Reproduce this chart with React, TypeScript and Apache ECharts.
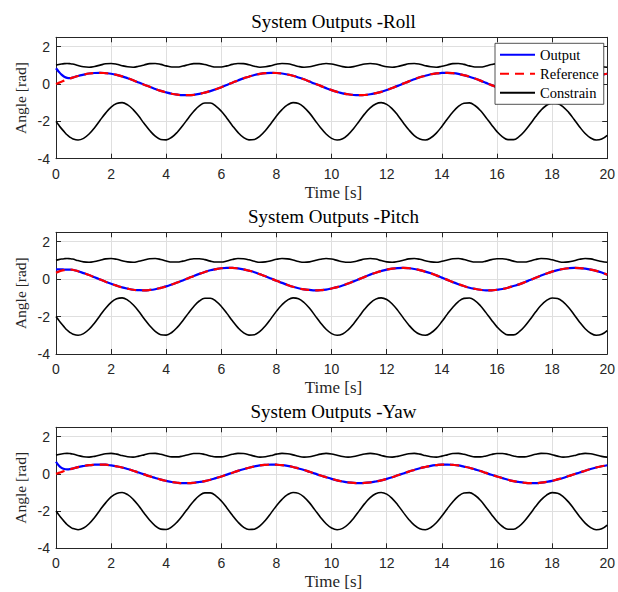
import React, { useEffect, useRef } from "react";
import * as echarts from "echarts";

// Sample times [s]
const time = [
  0, 0.1, 0.2, 0.3, 0.4, 0.5, 0.6, 0.8,
  1, 1.2, 1.4, 1.6, 1.8, 2, 2.2, 2.4, 2.6, 2.8, 3, 3.2, 3.4, 3.6, 3.8,
  4, 4.2, 4.4, 4.6, 4.8, 5, 5.2, 5.4, 5.6, 5.8, 6, 6.2, 6.4, 6.6, 6.8,
  7, 7.2, 7.4, 7.6, 7.8, 8, 8.2, 8.4, 8.6, 8.8, 9, 9.2, 9.4, 9.6, 9.8,
  10, 10.2, 10.4, 10.6, 10.8, 11, 11.2, 11.4, 11.6, 11.8, 12, 12.2, 12.4, 12.6, 12.8,
  13, 13.2, 13.4, 13.6, 13.8, 14, 14.2, 14.4, 14.6, 14.8, 15, 15.2, 15.4, 15.6, 15.8,
  16, 16.2, 16.4, 16.6, 16.8, 17, 17.2, 17.4, 17.6, 17.8, 18, 18.2, 18.4, 18.6, 18.8,
  19, 19.2, 19.4, 19.6, 19.8, 20,
];

const constrainUpper = [
  1.0, 1.04, 1.07, 1.09, 1.1, 1.09, 1.07, 0.99,
  0.92, 0.9, 0.94, 1.01, 1.08, 1.1, 1.06, 0.98, 0.92, 0.9, 0.95, 1.02, 1.09, 1.1, 1.05,
  0.97, 0.91, 0.91, 0.96, 1.03, 1.09, 1.09, 1.04, 0.96, 0.91, 0.91, 0.97, 1.05, 1.1, 1.09,
  1.03, 0.95, 0.9, 0.92, 0.98, 1.06, 1.1, 1.08, 1.02, 0.94, 0.9, 0.92, 0.99, 1.06, 1.1,
  1.07, 1.0, 0.93, 0.9, 0.93, 1.0, 1.07, 1.1, 1.07, 0.99, 0.92, 0.9, 0.94, 1.01, 1.08,
  1.1, 1.06, 0.98, 0.92, 0.9, 0.95, 1.02, 1.09, 1.1, 1.05, 0.97, 0.91, 0.91, 0.96, 1.04,
  1.09, 1.09, 1.04, 0.96, 0.91, 0.91, 0.97, 1.05, 1.1, 1.09, 1.03, 0.95, 0.9, 0.92, 0.98,
  1.06, 1.1, 1.08, 1.01, 0.94, 0.9,
];

const constrainLower = [
  -2.0, -2.2, -2.39, -2.56, -2.72, -2.84, -2.93, -3.0,
  -2.91, -2.68, -2.34, -1.94, -1.56, -1.24, -1.05, -1.0, -1.12, -1.37, -1.72, -2.12, -2.49, -2.79, -2.97,
  -2.99, -2.85, -2.58, -2.22, -1.83, -1.46, -1.17, -1.02, -1.02, -1.18, -1.46, -1.83, -2.23, -2.59, -2.86,
  -2.99, -2.97, -2.79, -2.49, -2.11, -1.71, -1.37, -1.12, -1.0, -1.05, -1.25, -1.56, -1.95, -2.34, -2.68,
  -2.91, -3.0, -2.93, -2.71, -2.38, -1.99, -1.6, -1.28, -1.07, -1.0, -1.09, -1.33, -1.67, -2.07, -2.45,
  -2.76, -2.95, -3.0, -2.88, -2.63, -2.27, -1.87, -1.5, -1.2, -1.03, -1.01, -1.15, -1.42, -1.79, -2.18,
  -2.55, -2.83, -2.98, -2.98, -2.82, -2.53, -2.16, -1.76, -1.4, -1.14, -1.01, -1.04, -1.22, -1.52, -1.9,
  -2.3, -2.65, -2.89, -3.0, -2.95, -2.75,
];

const rollReference = [
  0.0, 0.06, 0.12, 0.18, 0.23, 0.29, 0.34, 0.43,
  0.5, 0.56, 0.59, 0.6, 0.58, 0.55, 0.49, 0.41, 0.31, 0.2, 0.08, -0.04, -0.15, -0.27, -0.37,
  -0.45, -0.52, -0.57, -0.6, -0.6, -0.58, -0.53, -0.46, -0.38, -0.28, -0.17, -0.05, 0.07, 0.19, 0.3,
  0.39, 0.48, 0.54, 0.58, 0.6, 0.59, 0.56, 0.51, 0.44, 0.35, 0.25, 0.13, 0.01, -0.1, -0.22,
  -0.33, -0.42, -0.5, -0.55, -0.59, -0.6, -0.59, -0.55, -0.49, -0.42, -0.32, -0.21, -0.1, 0.02, 0.14,
  0.25, 0.36, 0.44, 0.52, 0.57, 0.59, 0.6, 0.58, 0.54, 0.47, 0.39, 0.29, 0.18, 0.06, -0.06,
  -0.17, -0.28, -0.38, -0.46, -0.53, -0.58, -0.6, -0.6, -0.57, -0.52, -0.45, -0.36, -0.26, -0.15, -0.03,
  0.09, 0.21, 0.31, 0.41, 0.49, 0.55,
];

const rollOutput = [
  0.84, 0.66, 0.5, 0.39, 0.33, 0.31, 0.34, 0.43,
  0.5, 0.56, 0.59, 0.6, 0.58, 0.55, 0.49, 0.41, 0.31, 0.2, 0.08, -0.04, -0.15, -0.27, -0.37,
  -0.45, -0.52, -0.57, -0.6, -0.6, -0.58, -0.53, -0.46, -0.38, -0.28, -0.17, -0.05, 0.07, 0.19, 0.3,
  0.39, 0.48, 0.54, 0.58, 0.6, 0.59, 0.56, 0.51, 0.44, 0.35, 0.25, 0.13, 0.01, -0.1, -0.22,
  -0.33, -0.42, -0.5, -0.55, -0.59, -0.6, -0.59, -0.55, -0.49, -0.42, -0.32, -0.21, -0.1, 0.02, 0.14,
  0.25, 0.36, 0.44, 0.52, 0.57, 0.59, 0.6, 0.58, 0.54, 0.47, 0.39, 0.29, 0.18, 0.06, -0.06,
  -0.17, -0.28, -0.38, -0.46, -0.53, -0.58, -0.6, -0.6, -0.57, -0.52, -0.45, -0.36, -0.26, -0.15, -0.03,
  0.09, 0.21, 0.31, 0.41, 0.49, 0.55,
];

const pitchReference = [
  0.34, 0.4, 0.45, 0.48, 0.5, 0.51, 0.5, 0.42,
  0.32, 0.22, 0.1, -0.02, -0.14, -0.25, -0.35, -0.44, -0.51, -0.57, -0.59, -0.6, -0.58, -0.54, -0.47,
  -0.39, -0.29, -0.18, -0.07, 0.05, 0.17, 0.28, 0.38, 0.47, 0.53, 0.58, 0.6, 0.6, 0.57, 0.52,
  0.45, 0.37, 0.26, 0.15, 0.03, -0.09, -0.2, -0.31, -0.41, -0.49, -0.55, -0.58, -0.6, -0.59, -0.56,
  -0.5, -0.43, -0.34, -0.23, -0.12, 0.0, 0.12, 0.24, 0.34, 0.43, 0.51, 0.56, 0.59, 0.6, 0.58,
  0.54, 0.48, 0.4, 0.31, 0.2, 0.08, -0.04, -0.16, -0.27, -0.37, -0.46, -0.52, -0.57, -0.6, -0.6,
  -0.57, -0.53, -0.46, -0.37, -0.28, -0.17, -0.05, 0.07, 0.19, 0.3, 0.4, 0.48, 0.54, 0.58, 0.6,
  0.59, 0.56, 0.51, 0.44, 0.35, 0.24,
];

const pitchOutput = [
  0.52, 0.52, 0.52, 0.51, 0.51, 0.51, 0.5, 0.42,
  0.32, 0.22, 0.1, -0.02, -0.14, -0.25, -0.35, -0.44, -0.51, -0.57, -0.59, -0.6, -0.58, -0.54, -0.47,
  -0.39, -0.29, -0.18, -0.07, 0.05, 0.17, 0.28, 0.38, 0.47, 0.53, 0.58, 0.6, 0.6, 0.57, 0.52,
  0.45, 0.37, 0.26, 0.15, 0.03, -0.09, -0.2, -0.31, -0.41, -0.49, -0.55, -0.58, -0.6, -0.59, -0.56,
  -0.5, -0.43, -0.34, -0.23, -0.12, 0.0, 0.12, 0.24, 0.34, 0.43, 0.51, 0.56, 0.59, 0.6, 0.58,
  0.54, 0.48, 0.4, 0.31, 0.2, 0.08, -0.04, -0.16, -0.27, -0.37, -0.46, -0.52, -0.57, -0.6, -0.6,
  -0.57, -0.53, -0.46, -0.37, -0.28, -0.17, -0.05, 0.07, 0.19, 0.3, 0.4, 0.48, 0.54, 0.58, 0.6,
  0.59, 0.56, 0.51, 0.44, 0.35, 0.24,
];

const yawReference = [
  0.0, 0.05, 0.1, 0.15, 0.19, 0.24, 0.28, 0.36,
  0.42, 0.47, 0.49, 0.5, 0.49, 0.45, 0.4, 0.34, 0.26, 0.17, 0.07, -0.03, -0.13, -0.22, -0.31,
  -0.38, -0.44, -0.48, -0.5, -0.5, -0.48, -0.44, -0.39, -0.32, -0.23, -0.14, -0.04, 0.06, 0.16, 0.25,
  0.33, 0.4, 0.45, 0.48, 0.5, 0.49, 0.47, 0.43, 0.37, 0.29, 0.21, 0.11, 0.01, -0.09, -0.18,
  -0.27, -0.35, -0.41, -0.46, -0.49, -0.5, -0.49, -0.46, -0.41, -0.35, -0.27, -0.18, -0.08, 0.02, 0.12,
  0.21, 0.3, 0.37, 0.43, 0.47, 0.5, 0.5, 0.48, 0.45, 0.39, 0.33, 0.24, 0.15, 0.05, -0.05,
  -0.14, -0.23, -0.32, -0.39, -0.44, -0.48, -0.5, -0.5, -0.47, -0.43, -0.38, -0.3, -0.22, -0.12, -0.02,
  0.07, 0.17, 0.26, 0.34, 0.41, 0.46,
];

const yawOutput = [
  0.65, 0.45, 0.32, 0.26, 0.24, 0.25, 0.28, 0.36,
  0.42, 0.47, 0.49, 0.5, 0.49, 0.45, 0.4, 0.34, 0.26, 0.17, 0.07, -0.03, -0.13, -0.22, -0.31,
  -0.38, -0.44, -0.48, -0.5, -0.5, -0.48, -0.44, -0.39, -0.32, -0.23, -0.14, -0.04, 0.06, 0.16, 0.25,
  0.33, 0.4, 0.45, 0.48, 0.5, 0.49, 0.47, 0.43, 0.37, 0.29, 0.21, 0.11, 0.01, -0.09, -0.18,
  -0.27, -0.35, -0.41, -0.46, -0.49, -0.5, -0.49, -0.46, -0.41, -0.35, -0.27, -0.18, -0.08, 0.02, 0.12,
  0.21, 0.3, 0.37, 0.43, 0.47, 0.5, 0.5, 0.48, 0.45, 0.39, 0.33, 0.24, 0.15, 0.05, -0.05,
  -0.14, -0.23, -0.32, -0.39, -0.44, -0.48, -0.5, -0.5, -0.47, -0.43, -0.38, -0.3, -0.22, -0.12, -0.02,
  0.07, 0.17, 0.26, 0.34, 0.41, 0.46,
];

const titles = ["System Outputs -Roll", "System Outputs -Pitch", "System Outputs -Yaw"];
const outputs = [rollOutput, pitchOutput, yawOutput];
const references = [rollReference, pitchReference, yawReference];
const legendNames = ["Output", "Reference", "Constrain"];
const xLabel = "Time [s]";
const yLabel = "Angle [rad]";

const SERIF = '"Liberation Serif", "Times New Roman", serif';
const SANS = '"Liberation Sans", Arial, sans-serif';
const AXIS = "#262626";

export default function App() {
  const ref = useRef<HTMLDivElement>(null);
  useEffect(() => {
    if (!ref.current) return;
    const chart = echarts.init(ref.current, undefined, { renderer: "svg" });
    const left = 56;
    const right = 611;
    const tops = [37.3, 232.3, 427.3];
    const heights = [121.4, 121.7, 121];
    const toPairs = (ys: number[]) => time.map((t, i) => [t, ys[i]]);

    const grid: any[] = [];
    const xAxis: any[] = [];
    const yAxis: any[] = [];
    const series: any[] = [];
    const graphic: any[] = [];
    const lineCommon = {
      show: true,
      onZero: false,
      lineStyle: { color: AXIS, width: 1 },
    };
    const tickCommon = { show: true, inside: true, length: 5, lineStyle: { color: AXIS, width: 1 } };

    for (let i = 0; i < 3; i++) {
      const top = tops[i];
      const h = heights[i];
      grid.push({ left, top, width: right - left, height: h, containLabel: false });
      xAxis.push({
        gridIndex: i, type: "value", min: 0, max: 20, interval: 2, position: "bottom",
        axisLine: lineCommon, axisTick: tickCommon,
        axisLabel: { fontFamily: SANS, fontSize: 14, color: AXIS, margin: 8 },
        splitLine: { show: true, lineStyle: { color: "#dfdfdf", width: 1 } },
      });
      xAxis.push({
        gridIndex: i, type: "value", min: 0, max: 20, interval: 2, position: "top",
        axisLine: lineCommon, axisTick: tickCommon, axisLabel: { show: false },
        splitLine: { show: false },
      });
      yAxis.push({
        gridIndex: i, type: "value", min: -4, max: 2.5, interval: 2, position: "left",
        axisLine: lineCommon, axisTick: tickCommon,
        axisLabel: {
          fontFamily: SANS, fontSize: 14, color: AXIS, margin: 6,
          formatter: (v: number) => (Math.abs(v % 2) < 1e-9 ? String(v) : ""),
        },
        splitLine: { show: true, lineStyle: { color: "#dfdfdf", width: 1 } },
      });
      yAxis.push({
        gridIndex: i, type: "value", min: -4, max: 2.5, interval: 2, position: "right",
        axisLine: lineCommon, axisTick: tickCommon, axisLabel: { show: false },
        splitLine: { show: false },
      });
      const axisIdx = { xAxisIndex: i * 2, yAxisIndex: i * 2 };
      series.push({
        name: legendNames[0], type: "line", ...axisIdx, data: toPairs(outputs[i]),
        showSymbol: false, symbol: "none", smooth: 0.4, z: 3,
        lineStyle: { color: "#0000ff", width: 2.2 }, itemStyle: { color: "#0000ff" },
      });
      series.push({
        name: legendNames[1], type: "line", ...axisIdx, data: toPairs(references[i]),
        showSymbol: false, symbol: "none", smooth: 0.4, z: 4,
        lineStyle: { color: "#ff0000", width: 2.2, type: [9, 6] }, itemStyle: { color: "#ff0000" },
      });
      series.push({
        name: legendNames[2], type: "line", ...axisIdx, data: toPairs(constrainUpper),
        showSymbol: false, symbol: "none", smooth: 0.4, z: 3,
        lineStyle: { color: "#000000", width: 1.6 }, itemStyle: { color: "#000000" },
      });
      series.push({
        name: legendNames[2], type: "line", ...axisIdx, data: toPairs(constrainLower),
        showSymbol: false, symbol: "none", smooth: 0.4, z: 3,
        lineStyle: { color: "#000000", width: 1.6 }, itemStyle: { color: "#000000" },
      });
      const cx = (left + right) / 2;
      graphic.push({
        type: "text", x: cx, y: top - 16,
        style: {
          text: titles[i], fill: "#000", fontFamily: SERIF, fontSize: 19,
          align: "center", verticalAlign: "middle", textAlign: "center", textVerticalAlign: "middle",
        },
      });
      graphic.push({
        type: "text", x: cx, y: top + h + 33.5,
        style: {
          text: xLabel, fill: AXIS, fontFamily: SERIF, fontSize: 17,
          align: "center", verticalAlign: "middle", textAlign: "center", textVerticalAlign: "middle",
        },
      });
      graphic.push({
        type: "text", x: 20, y: top + h / 2, rotation: Math.PI / 2,
        style: {
          text: yLabel, fill: AXIS, fontFamily: SERIF, fontSize: 15.5,
          align: "center", verticalAlign: "middle", textAlign: "center", textVerticalAlign: "middle",
        },
      });
    }

    chart.setOption({
      animation: false,
      backgroundColor: "#ffffff",
      grid,
      xAxis,
      yAxis,
      series,
      graphic,
      legend: {
        data: legendNames,
        orient: "vertical",
        left: 495,
        top: 43.3,
        z: 20,
        padding: [4, 5, 4, 4],
        itemWidth: 35,
        itemHeight: 12,
        itemGap: 4,
        backgroundColor: "#ffffff",
        borderColor: AXIS,
        borderWidth: 0.8,
        borderRadius: 0,
        selectedMode: false,
        itemStyle: { opacity: 0, borderWidth: 0 },
        textStyle: { fontFamily: SERIF, fontSize: 14.5, color: "#000", lineHeight: 14 },
      },
    });
    return () => chart.dispose();
  }, []);
  return (
    <div
      ref={ref}
      style={{ position: "fixed", left: 0, top: 0, width: 618, height: 592, background: "#fff" }}
    />
  );
}
